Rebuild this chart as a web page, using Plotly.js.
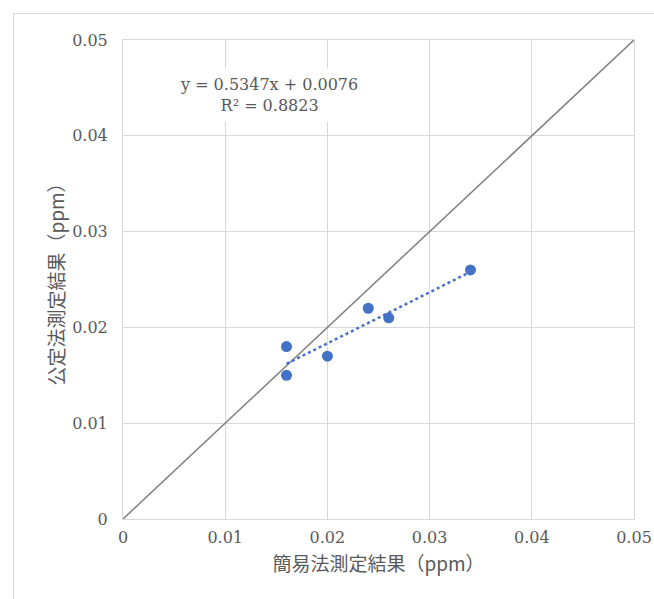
<!DOCTYPE html>
<html>
<head>
<meta charset="utf-8">
<script src="https://cdn.plot.ly/plotly-3.0.1.min.js"></script>
<style>
  html, body { margin: 0; padding: 0; background: #fff; overflow: hidden; }
  #wrap { position: relative; width: 654px; height: 599px; }
  #chart { position: absolute; left: 0; top: 0; width: 654px; height: 599px; }
  #frame { position: absolute; left: 13px; top: 13px; width: 700px; height: 700px;
           border-left: 1.5px solid #d9d9d9; border-top: 1.5px solid #d9d9d9; pointer-events: none; }
</style>
</head>
<body>
<div id="wrap">
  <div id="chart"></div>
  <div id="frame"></div>
</div>
<script>
// Data
const simpleMethod = [0.016, 0.016, 0.020, 0.024, 0.026, 0.034];   // 簡易法測定結果 (ppm)
const officialMethod = [0.018, 0.015, 0.017, 0.022, 0.021, 0.026]; // 公定法測定結果 (ppm)
const identityX = [0, 0.05];
const identityY = [0, 0.05];
const trendX = [0.016, 0.034];
const trendY = [0.0162, 0.0258];
const tickVals = [0, 0.01, 0.02, 0.03, 0.04, 0.05];
const tickText = ['0', '0.01', '0.02', '0.03', '0.04', '0.05'];
const equationText = 'y = 0.5347x + 0.0076';
const r2Text = 'R² = 0.8823';
const xTitle = '簡易法測定結果（ppm）';
const yTitle = '公定法測定結果（ppm）';

const numFont = 'DejaVu Serif, Liberation Serif, Noto Sans CJK JP, serif';
const cjkFont = 'Noto Sans CJK JP, DejaVu Serif, serif';
const grey = '#595959';

const traces = [
  { x: identityX, y: identityY, mode: 'lines', type: 'scatter',
    line: { color: '#7f7f7f', width: 1.5 }, hoverinfo: 'skip', showlegend: false },
  { x: trendX, y: trendY, mode: 'lines', type: 'scatter',
    line: { color: '#4472C4', width: 2.5, dash: 'dot' }, hoverinfo: 'skip', showlegend: false },
  { x: simpleMethod, y: officialMethod, mode: 'markers', type: 'scatter',
    marker: { color: '#4472C4', size: 11, line: { width: 0 } }, showlegend: false }
];

const axisCommon = {
  range: [0, 0.05], autorange: false,
  tickmode: 'array', tickvals: tickVals, ticktext: tickText,
  showgrid: true, gridcolor: '#d9d9d9', gridwidth: 1,
  zeroline: false, showline: true, linecolor: '#d9d9d9', linewidth: 1, mirror: true,
  ticks: '', tickfont: { family: numFont, size: 16, color: grey }
};

const layout = {
  width: 654, height: 599,
  margin: { l: 123, r: 20, t: 40, b: 80, pad: 0 },
  paper_bgcolor: '#fff', plot_bgcolor: '#fff',
  showlegend: false,
  xaxis: Object.assign({}, axisCommon, {
    ticklabelstandoff: 4,
    title: { text: xTitle, font: { family: cjkFont, size: 19, color: grey }, standoff: 11 }
  }),
  yaxis: Object.assign({}, axisCommon, {
    ticklabelstandoff: 11,
    title: { text: yTitle, font: { family: cjkFont, size: 19, color: grey }, standoff: 2 }
  }),
  annotations: [{
    xref: 'paper', yref: 'paper',
    x: (269 - 123) / 511, y: (519 - 95) / 479,
    xanchor: 'center', yanchor: 'middle',
    text: equationText + '<br>' + r2Text,
    showarrow: false, align: 'center',
    bgcolor: '#ffffff', borderpad: 6,
    font: { family: numFont, size: 16, color: grey }
  }]
};

Plotly.newPlot('chart', traces, layout, { displayModeBar: false, staticPlot: true });
</script>
</body>
</html>
